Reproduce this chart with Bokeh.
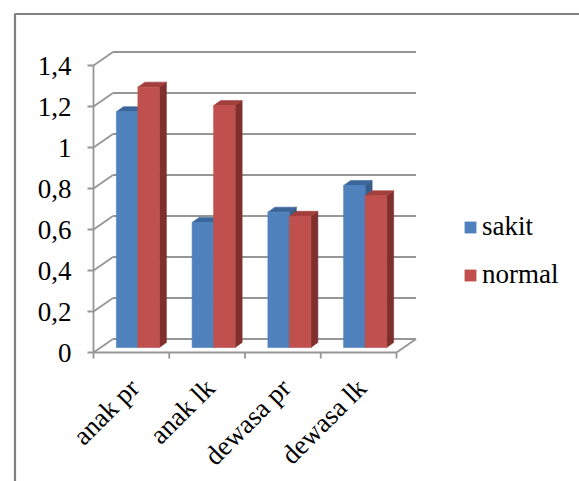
import math
from bokeh.plotting import figure
from bokeh.models import Range1d, Legend, LegendItem, ColumnDataSource
from bokeh.core.properties import value
from bokeh.embed import file_html
from bokeh.resources import INLINE

# ---- data ----
categories = ["anak pr", "anak lk", "dewasa pr", "dewasa lk"]
sakit = [1.15, 0.61, 0.66, 0.79]
normal = [1.27, 1.18, 0.64, 0.74]
y_ticks = [0, 0.2, 0.4, 0.6, 0.8, 1.0, 1.2, 1.4]
y_tick_labels = ["0", "0,2", "0,4", "0,6", "0,8", "1", "1,2", "1,4"]

# ---- page / projection settings ----
W, H = 579, 481
PX_X = 75.75          # pixels per category slot
PX_Y = 205.0          # pixels per unit of value
ORIGIN = (93, 352)    # pixel position of the front-left floor corner

def sx(px):  # horizontal pixel distance -> data units
    return px / PX_X

def sy(px):  # vertical pixel distance -> data units
    return px / PX_Y

def to_x(px):  # absolute pixel column -> data x
    return (px - ORIGIN[0]) / PX_X

def to_y(py):  # absolute pixel row (from top) -> data y
    return (ORIGIN[1] - py) / PX_Y

DX, DY = sx(19.5), sy(13.5)     # depth of the floor / walls
BX, BY = sx(6.5), sy(5)         # front of the bars, set back from the floor edge
BDX, BDY = sx(7), sy(5)         # depth of each bar
BW = sx(21.5)                   # width of one bar
TK = sx(6)                      # y tick length
N = len(categories)

FONT = "Liberation Serif"
FSIZE = "27px"
GRID = "#969696"

p = figure(width=W, height=H, output_backend="svg", toolbar_location=None,
           min_border=0, x_axis_location=None, y_axis_location=None,
           x_range=Range1d(to_x(0), to_x(W)), y_range=Range1d(to_y(H), to_y(0)))
p.grid.visible = False
p.outline_line_color = None
p.background_fill_color = "white"

# chart area border (top and left edges)
p.line([to_x(14.5), to_x(14.5), to_x(W + 5)], [to_y(H + 5), to_y(13.5), to_y(13.5)],
       line_color="#808080", line_width=2.2)

# back wall gridlines and left wall diagonals
p.segment(x0=[DX] * len(y_ticks), y0=[v + DY for v in y_ticks],
          x1=[N + DX] * len(y_ticks), y1=[v + DY for v in y_ticks],
          line_color=GRID, line_width=1.8)
p.segment(x0=[0] * len(y_ticks), y0=y_ticks,
          x1=[DX] * len(y_ticks), y1=[v + DY for v in y_ticks],
          line_color=GRID, line_width=1.8)
# floor: front edge (category axis) and right edge
p.segment(x0=[0, N], y0=[0, 0], x1=[N, N + DX], y1=[0, DY],
          line_color=GRID, line_width=1.8)
# value axis line and ticks
p.segment(x0=[0], y0=[0], x1=[0], y1=[y_ticks[-1]], line_color=GRID, line_width=1.8)
p.segment(x0=[-TK] * len(y_ticks), y0=y_ticks, x1=[0] * len(y_ticks), y1=y_ticks,
          line_color=GRID, line_width=1.8)
# category axis ticks
p.segment(x0=list(range(N + 1)), y0=[0] * (N + 1), x1=list(range(N + 1)),
          y1=[-sy(6)] * (N + 1), line_color=GRID, line_width=1.8)

# ---- 3D bars ----
def draw_series(vals, offset, front, top, side):
    lefts, rights, tops = [], [], []
    side_xs, side_ys, top_xs, top_ys = [], [], [], []
    for i, v in enumerate(vals):
        c = i + 0.5 + BX
        x0 = c + offset
        x1 = x0 + BW
        t = v + BY
        lefts.append(x0); rights.append(x1); tops.append(t)
        side_xs.append([x1, x1, x1 + BDX, x1 + BDX])
        side_ys.append([BY, t, t + BDY, BY + BDY])
        top_xs.append([x0, x1, x1 + BDX, x0 + BDX])
        top_ys.append([t, t, t + BDY, t + BDY])
    p.patches(side_xs, side_ys, fill_color=side, line_color=side, line_width=0.6)
    p.patches(top_xs, top_ys, fill_color=top, line_color=top, line_width=0.6)
    src = ColumnDataSource(dict(left=lefts, right=rights, top=tops,
                                bottom=[BY] * len(vals)))
    return p.quad(left="left", right="right", top="top", bottom="bottom",
                  source=src, fill_color=front, line_color=front, line_width=0.6)

r_sakit = draw_series(sakit, -BW, "#4F81BD", "#3B669B", "#385D8A")
r_normal = draw_series(normal, 0, "#C0504D", "#A23F3C", "#7F302E")

# ---- tick labels ----
p.text(x=[-sx(22)] * len(y_ticks), y=y_ticks, text=y_tick_labels,
       text_font=value(FONT), text_font_size=FSIZE, text_color="black",
       text_align="right", text_baseline="middle")

p.text(x=[i + 0.5 + sx(3) for i in range(N)], y=[-sy(31)] * N, text=categories,
       angle=math.pi / 4, text_font=value(FONT), text_font_size=FSIZE,
       text_color="black", text_align="right", text_baseline="middle")

# ---- legend ----
legend = Legend(items=[LegendItem(label="sakit", renderers=[r_sakit]),
                       LegendItem(label="normal", renderers=[r_normal])],
                location=(463, 191), orientation="vertical",
                glyph_width=14, glyph_height=14, label_height=30, spacing=17,
                label_standoff=5, padding=0, margin=0,
                label_text_font=FONT, label_text_font_size=FSIZE,
                label_text_color="black", label_text_baseline="middle",
                border_line_color=None, background_fill_alpha=0)
p.add_layout(legend)

open("out.html", "w").write(file_html(p, INLINE))
